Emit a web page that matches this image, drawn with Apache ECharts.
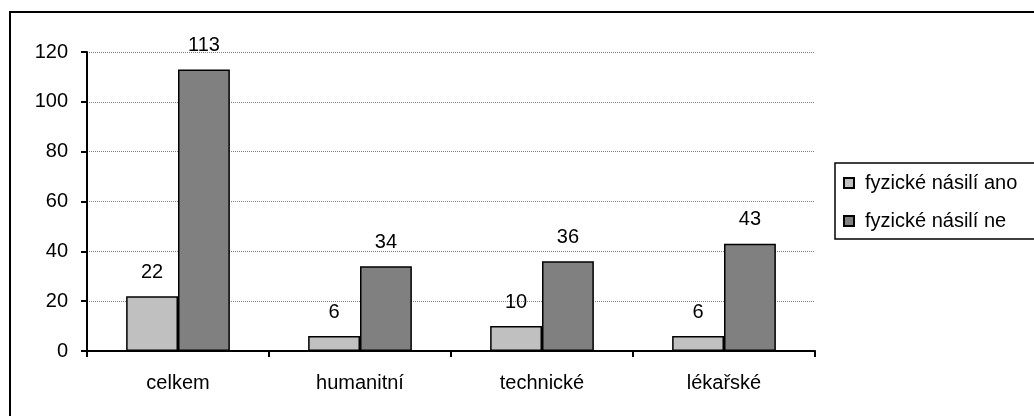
<!DOCTYPE html>
<html>
<head>
<meta charset="utf-8">
<style>
  html, body { margin: 0; padding: 0; background: #fff; }
  #chart { width: 1034px; height: 416px; }
</style>
<script src="https://cdn.jsdelivr.net/npm/echarts@6/dist/echarts.min.js"></script>
</head>
<body>
<div id="chart"></div>
<script>
// Categories and counts per category
const categories = ['celkem', 'humanitní', 'technické', 'lékařské'];
const seriesNames = ['fyzické násilí ano', 'fyzické násilí ne'];
const violenceYes = [22, 6, 10, 6];
const violenceNo = [113, 34, 36, 43];
const yTicks = { min: 0, max: 120, interval: 20 };

const FONT = '"Liberation Sans", Arial, sans-serif';
const chart = echarts.init(document.getElementById('chart'), null, { renderer: 'canvas' });

const barSeries = (name, data, color) => ({
  name: name,
  type: 'bar',
  data: data,
  barGap: '0%',
  barCategoryGap: '43%',
  itemStyle: { color: color, borderColor: '#000', borderWidth: 1.5 },
  label: {
    show: true,
    position: 'top',
    distance: 14,
    color: '#000',
    fontFamily: FONT,
    fontSize: 20
  },
  emphasis: { disabled: true }
});

chart.setOption({
  animation: false,
  backgroundColor: '#fff',
  textStyle: { fontFamily: FONT },
  grid: { left: 87, right: 219, top: 52, bottom: 65, containLabel: false },
  graphic: [{
    type: 'rect',
    shape: { x: 10, y: 12, width: 1100, height: 500 },
    style: { fill: 'none', stroke: '#000', lineWidth: 2 },
    silent: true
  }],
  legend: {
    orient: 'vertical',
    left: 835,
    top: 163,
    padding: [10, 80, 8, 8],
    itemGap: 18,
    itemWidth: 10,
    itemHeight: 10,
    borderColor: '#000',
    borderWidth: 1.5,
    backgroundColor: '#fff',
    selectedMode: false,
    textStyle: {
      color: '#000',
      fontFamily: FONT,
      fontSize: 20,
      lineHeight: 20,
      padding: [0, 0, 0, 6]
    },
    data: seriesNames.map(n => ({ name: n, icon: 'rect' }))
  },
  xAxis: {
    type: 'category',
    data: categories,
    axisLine: { lineStyle: { color: '#000', width: 2 } },
    axisTick: { show: true, length: 6, lineStyle: { color: '#000', width: 2 } },
    axisLabel: { color: '#000', fontFamily: FONT, fontSize: 20, margin: 22 }
  },
  yAxis: {
    type: 'value',
    min: yTicks.min,
    max: yTicks.max,
    interval: yTicks.interval,
    axisLine: { show: true, lineStyle: { color: '#000', width: 2 } },
    axisTick: { show: true, length: 6, lineStyle: { color: '#000', width: 2 } },
    axisLabel: { color: '#000', fontFamily: FONT, fontSize: 20, margin: 19 },
    splitLine: { show: true, lineStyle: { color: '#808080', width: 1, type: 'dotted' } }
  },
  series: [
    barSeries(seriesNames[0], violenceYes, '#C0C0C0'),
    barSeries(seriesNames[1], violenceNo, '#808080')
  ]
});
</script>
</body>
</html>
